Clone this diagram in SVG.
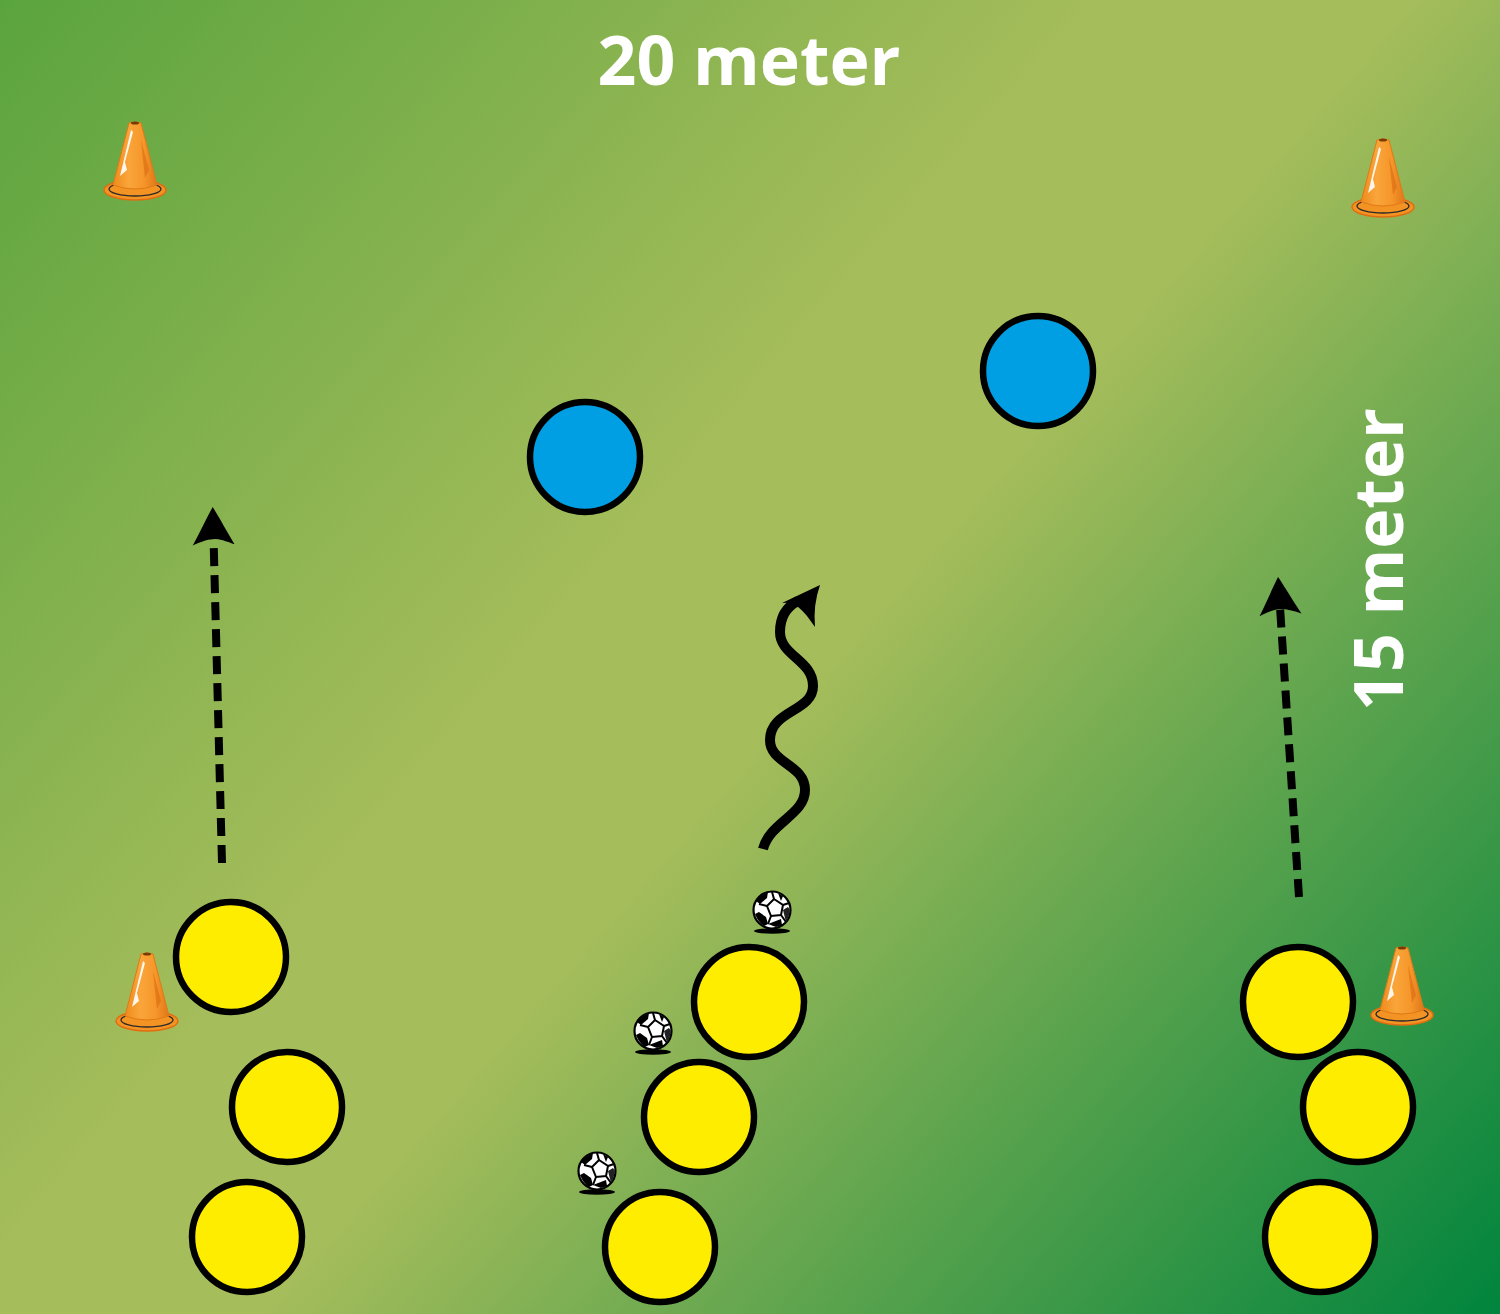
<svg xmlns="http://www.w3.org/2000/svg" xmlns:xlink="http://www.w3.org/1999/xlink" width="1500" height="1314" viewBox="0 0 1500 1314">
<style>
.label{font-family:"Open Sans","Liberation Sans",sans-serif;font-weight:700;font-size:68px;fill:#ffffff}
.yellow{fill:#ffed00;stroke:#000;stroke-width:6.5}
.blue{fill:#009fe3;stroke:#000;stroke-width:6.5}
.dash{fill:none;stroke:#000;stroke-width:8;stroke-dasharray:18 9}
.wave{fill:none;stroke:#000;stroke-width:10;stroke-linecap:butt}
</style>
<defs>
<linearGradient id="grass" gradientUnits="userSpaceOnUse" x1="0" y1="0" x2="1500" y2="1314">
<stop offset="0" stop-color="#5aa43e"/>
<stop offset="0.42" stop-color="#a6bd5b"/>
<stop offset="0.53" stop-color="#a6bd5b"/>
<stop offset="1" stop-color="#00843d"/>
</linearGradient>
<linearGradient id="coneShade" x1="0" y1="0" x2="1" y2="0">
<stop offset="0" stop-color="#f08a1c"/>
<stop offset="0.35" stop-color="#f9a53a"/>
<stop offset="0.7" stop-color="#f6962a"/>
<stop offset="1" stop-color="#e0761a"/>
</linearGradient>
<marker id="head" markerUnits="userSpaceOnUse" markerWidth="60" markerHeight="60" viewBox="0 -30 60 60" refX="8" refY="0" orient="auto">
<path d="M38,0 C28,6 12,14 0,21 C4,12 6,5 6,0 C6,-5 4,-12 0,-21 C12,-14 28,-6 38,0Z" fill="#000"/>
</marker>
<g id="cone">
<ellipse cx="0" cy="0" rx="31" ry="10" fill="#f39323" stroke="#e06e10" stroke-width="1.5"/>
<ellipse cx="0" cy="-1" rx="26" ry="7" fill="none" stroke="#2a2a2a" stroke-width="1.3"/>
<path d="M-22,-5 L-6,-67 Q0,-69 6,-67 L22,-5 Q0,3 -22,-5Z" fill="url(#coneShade)" stroke="#e07a15" stroke-width="1"/>
<path d="M-15,-14 L-4,-60 L-2,-58 L-10,-28 L-8,-20 Z" fill="#fff" opacity="0.9"/>
<path d="M6,-50 L14,-20 L10,-12 L8,-30 Z" fill="#d96a10" opacity="0.6"/>
<ellipse cx="0" cy="-67" rx="4" ry="1.5" fill="#7a3a00"/>
</g>
<g id="ball">
<ellipse cx="0" cy="21" rx="18" ry="2.8" fill="#000"/>
<circle cx="0" cy="0" r="18.5" fill="#fff" stroke="#000" stroke-width="2.2"/>
<path d="M2,-11 L11,-5 L9,5 L-1,6 L-5,-4 Z" fill="#fff" stroke="#000" stroke-width="2"/>
<path d="M2,-11 L0,-18 M11,-5 L17,-7 M9,5 L14,12 M-1,6 L-4,14 M-5,-4 L-13,-6" stroke="#000" stroke-width="2" fill="none"/>
<path d="M-4,-18 Q-12,-15 -16,-9 L-12,-6 L-5,-12 Z" fill="#000"/>
<path d="M-17,4 Q-14,12 -8,16 L-4,14 L-6,7 L-13,2 Z" fill="#000"/>
<path d="M14,12 Q17,7 18,0 L16,-3 L11,0 Z" fill="#222"/>
<path d="M-4,14 L4,17 L10,15 L9,9 Z" fill="#000"/>
<path d="M6,-17 L11,-14 L9,-9 Z" fill="#000"/>
</g>
</defs>
<rect x="0" y="0" width="1500" height="1314" fill="url(#grass)"/>
<g id="labels">
<text class="label" x="749" y="85" text-anchor="middle">20 meter</text>
<text class="label" transform="translate(1403,711) rotate(-90)">15 meter</text>
</g>
<g id="cones">
<use id="cone-top-left" xlink:href="#cone" href="#cone" transform="translate(135,190)"/>
<use id="cone-top-right" xlink:href="#cone" href="#cone" transform="translate(1383,207)"/>
<use id="cone-left" xlink:href="#cone" href="#cone" transform="translate(147,1021)"/>
<use id="cone-right" xlink:href="#cone" href="#cone" transform="translate(1402,1015)"/>
</g>
<g id="connectors">
<path id="run-left" class="dash" d="M222,863 L213.5,537" marker-end="url(#head)"/>
<path id="run-right" class="dash" d="M1299,897 L1280,607" marker-end="url(#head)"/>
<path id="dribble" class="wave" d="M763,849 C770,822 805,815 805,790 C805,764 770,764 770,740 C770,710 813,712 813,686 C813,660 780,656 780,632 C780,615 788,606 798,601"/>
<path d="M820,585 L782,603 Q792,602 797,606 Q803,611 807,616 L815,627 Q813,605 820,585Z" fill="#000"/>
</g>
<g id="blue-players">
<circle id="blue-1" class="blue" cx="585" cy="457" r="55"/>
<circle id="blue-2" class="blue" cx="1038" cy="371" r="55"/>
</g>
<g id="yellow-left">
<circle id="y-l1" class="yellow" cx="231" cy="957" r="55"/>
<circle id="y-l2" class="yellow" cx="287" cy="1107" r="55"/>
<circle id="y-l3" class="yellow" cx="247" cy="1237" r="55"/>
</g>
<g id="yellow-middle">
<circle id="y-m1" class="yellow" cx="749" cy="1002" r="55"/>
<circle id="y-m2" class="yellow" cx="699" cy="1117" r="55"/>
<circle id="y-m3" class="yellow" cx="660" cy="1247" r="55"/>
</g>
<g id="yellow-right">
<circle id="y-r1" class="yellow" cx="1298" cy="1002" r="55"/>
<circle id="y-r2" class="yellow" cx="1358" cy="1107" r="55"/>
<circle id="y-r3" class="yellow" cx="1320" cy="1237" r="55"/>
</g>
<g id="balls">
<use id="ball-1" xlink:href="#ball" href="#ball" transform="translate(772,910)"/>
<use id="ball-2" xlink:href="#ball" href="#ball" transform="translate(653,1031)"/>
<use id="ball-3" xlink:href="#ball" href="#ball" transform="translate(597,1171)"/>
</g>
</svg>
